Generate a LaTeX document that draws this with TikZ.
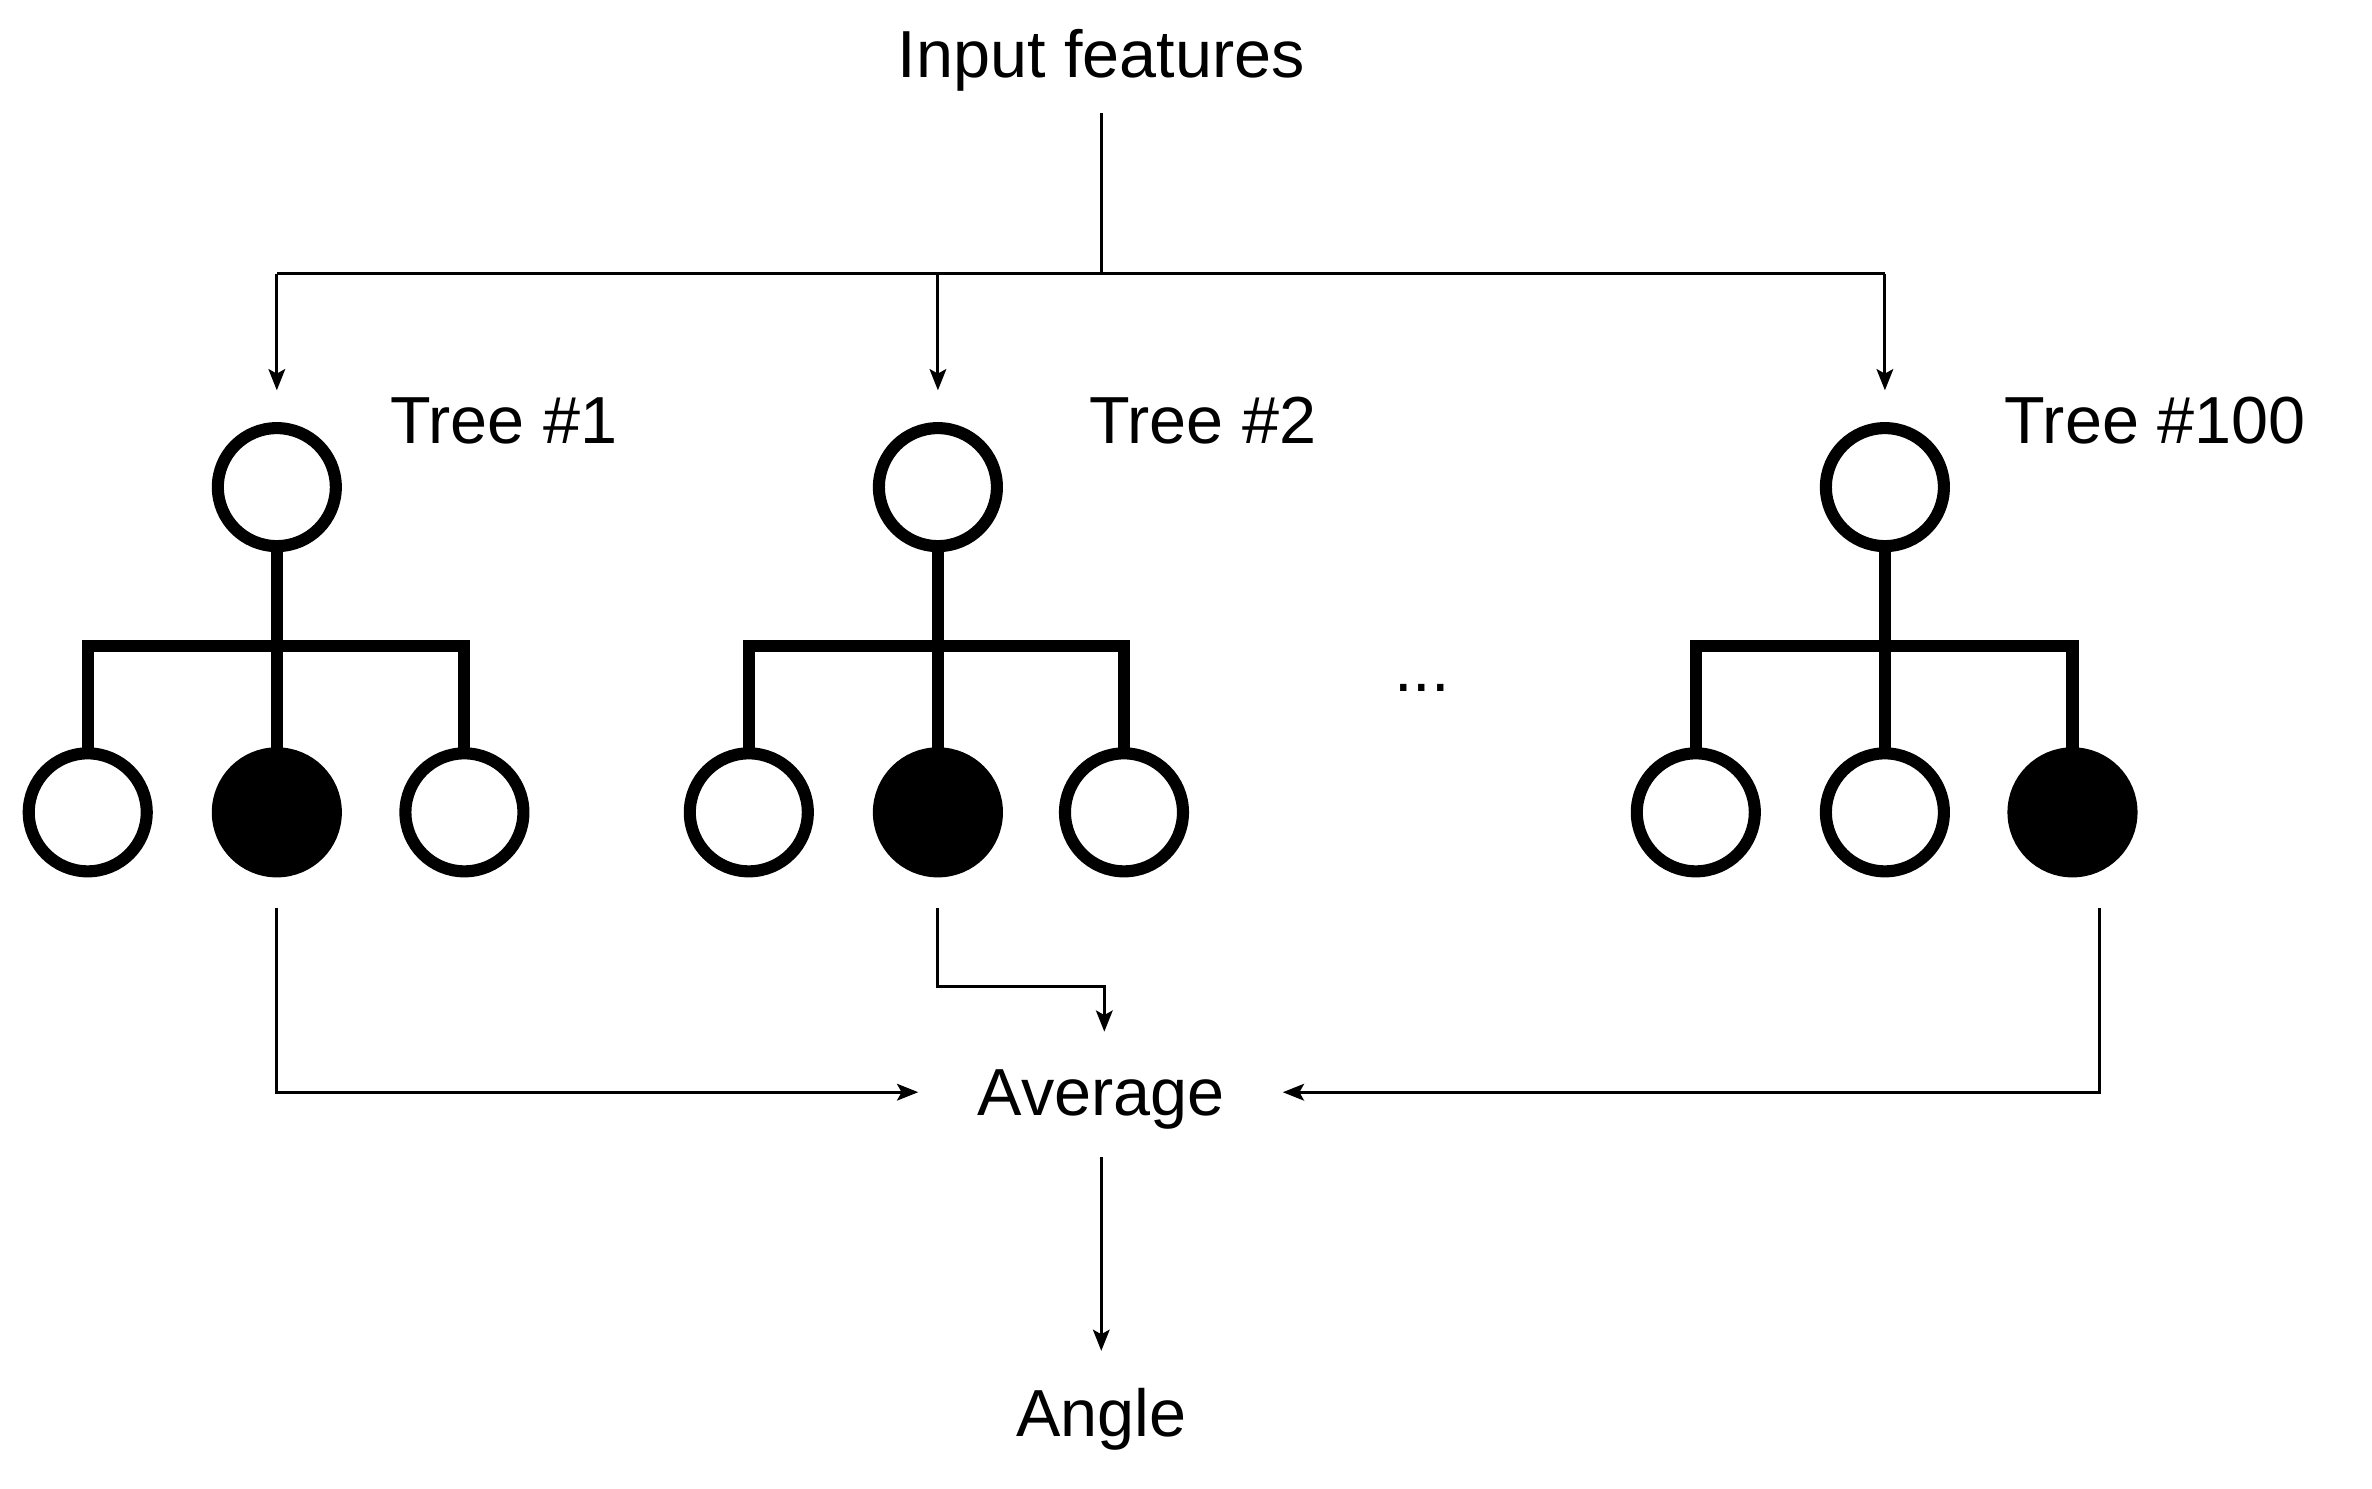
\documentclass[tikz,border=0pt]{standalone}
\usepackage{fontspec}
\setmainfont{Liberation Sans}
\usetikzlibrary{arrows.meta}
\begin{document}
\begin{tikzpicture}[x=1pt,y=-1pt,
  lbl/.style={font=\fontsize{44}{52}\selectfont,inner sep=0pt},
  conn/.style={line width=2pt,-{Stealth[length=14pt,width=11pt,inset=3pt]}},
  plain/.style={line width=2pt},
  tree/.style={line width=8pt},
  nd/.style={circle,draw,line width=8pt,minimum size=78pt,inner sep=0pt,fill=white},
  fnd/.style={nd,fill=black}]
\useasboundingbox (0,0) rectangle (1568,984);
\node[lbl] (in) at (728,40) {Input features};
\coordinate (j) at (728,181);
\coordinate (l) at (183,181);
\coordinate (m) at (620,181);
\coordinate (r) at (1246,181);
\draw[plain] (728,75) -- (j);
\draw[plain] (l) -- (r);
% trees
\foreach \c/\a/\b/\cc/\fa/\fb/\fc/\n in {183/58/183/307/nd/fnd/nd/1,620/495/620/743/nd/fnd/nd/2,1246/1121/1246/1370/nd/nd/fnd/3}{
  \draw[tree] (\c,322) -- (\c,427);
  \draw[tree] (\a,495) -- (\a,427) -- (\cc,427) -- (\cc,495);
  \draw[tree] (\c,427) -- (\c,495);
  \node[nd] (root\n) at (\c,322) {};
  \node[\fa] (ca\n) at (\a,537) {};
  \node[\fb] (cb\n) at (\b,537) {};
  \node[\fc] (cc\n) at (\cc,537) {};
}
\draw[conn] (l) -- (183,258);
\draw[conn] (m) -- (620,258);
\draw[conn] (r) -- (1246,258);
\node[lbl,anchor=west] (t1) at (258,278) {Tree \#1};
\node[lbl,anchor=west] (t2) at (720,278) {Tree \#2};
\node[lbl,anchor=west] (t3) at (1325,278) {Tree \#100};
\node[lbl] (dots) at (940,455) {...};
\node[lbl] (avg) at (728,727) {Average};
\node[lbl] (ang) at (728,938) {Angle};
\draw[conn] (183,600) -- (183,722) -- (607,722);
\draw[conn] (620,600) -- (620,652) -- (730,652) -- (730,682);
\draw[conn] (1388,600) -- (1388,722) -- (848,722);
\draw[conn] (728,765) -- (728,893);
\end{tikzpicture}
\end{document}
